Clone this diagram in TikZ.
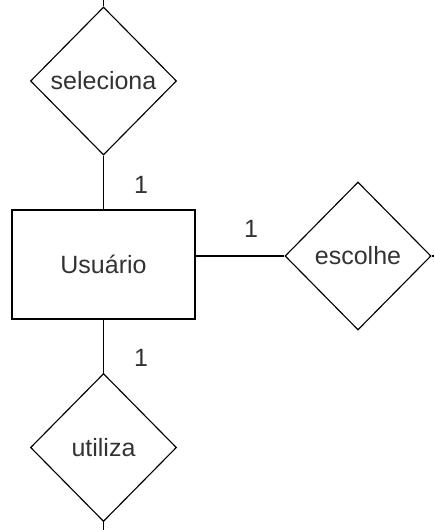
\documentclass[tikz,border=0pt]{standalone}
\usepackage{fontspec}
\setmainfont{Liberation Sans}
\usetikzlibrary{shapes.geometric}
\begin{document}
\begin{tikzpicture}[x=0.75pt,y=-0.75pt,
  er/.style={draw=black, line width=0.85pt, text=black!80, font=\fontsize{18.75}{22}\selectfont},
  relbox/.style={er, shape=diamond, inner sep=0pt, minimum width=109.5pt, minimum height=111pt},
  entbox/.style={er, rectangle, inner sep=0pt, minimum width=137.25pt, minimum height=81.75pt},
  card/.style={text=black!80, font=\fontsize{18.75}{22}\selectfont, inner sep=0pt},
  link/.style={draw=black, line width=0.85pt}]
\useasboundingbox (0,0) rectangle (434,530);
\node[entbox] (usr) at (103.5,264.5) {Usuário};
\node[relbox] (sel) at (103.5,81) {seleciona};
\node[relbox] (esc) at (358,256) {escolhe};
\node[relbox] (uti) at (103.5,447.5) {utiliza};
\coordinate (topend) at (103.5,0);
\coordinate (botend) at (103.5,530);
\coordinate (rightend) at (434,256);
\draw[link] (sel.south) -- (usr.north);
\draw[link] (usr.east |- esc.west) -- (esc.west);
\draw[link] (usr.south) -- (uti.north);
\draw[link] (sel.north) -- (topend);
\draw[link] (uti.south) -- (botend);
\draw[link] (esc.east) -- (rightend);
\node[card] (c1) at (141,185) {1};
\node[card] (c2) at (251,229) {1};
\node[card] (c3) at (141,358) {1};
\end{tikzpicture}
\end{document}
